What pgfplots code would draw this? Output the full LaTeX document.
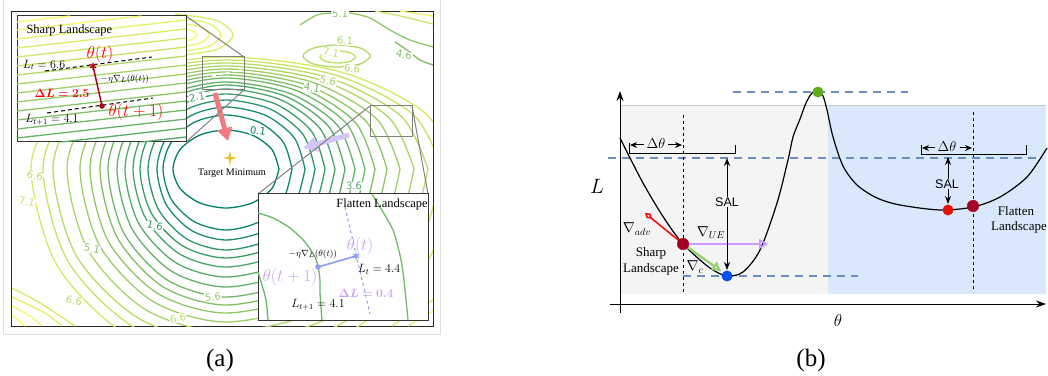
\documentclass[border=0pt]{standalone}
\usepackage{pgfplots}
\pgfplotsset{compat=1.18}
\usepackage{bm}
\usepackage{fontspec}
\setmainfont{Liberation Serif}
\newfontfamily\sansf{Liberation Sans}
\newfontfamily\dvs{DejaVu Sans}
\usetikzlibrary{arrows.meta}
\definecolor{st}{rgb}{0,0.5,0.4}
\definecolor{sy}{rgb}{1,1,0.4}
\definecolor{darkr}{HTML}{B0001A}
\definecolor{lviolet}{HTML}{C9A3F5}
\definecolor{lblue}{HTML}{8E9CF2}
\definecolor{dashblue}{HTML}{6C8EBF}
\definecolor{bgblue}{HTML}{DAE8FC}
\definecolor{bggray}{HTML}{F4F4F4}
\definecolor{dmaroon}{HTML}{A20025}
\definecolor{dotblue}{HTML}{0050EF}
\definecolor{dotgreen}{HTML}{60A917}
\definecolor{dotred}{HTML}{E51400}
\definecolor{gradgreen}{HTML}{97D077}
\definecolor{gradpurple}{HTML}{CC99FF}
\definecolor{gold}{HTML}{E8C21A}
\definecolor{arrred}{HTML}{F27A80}
\definecolor{arrpurple}{HTML}{D6C4F7}
\newcommand{\fs}[1]{\fontsize{#1}{#1}\selectfont}
\pgfdeclareplotmark{sparkle}{%
 \pgfpathmoveto{\pgfqpoint{0pt}{\pgfplotmarksize}}%
 \pgfpathlineto{\pgfqpoint{0.18\pgfplotmarksize}{0.18\pgfplotmarksize}}%
 \pgfpathlineto{\pgfqpoint{\pgfplotmarksize}{0pt}}%
 \pgfpathlineto{\pgfqpoint{0.18\pgfplotmarksize}{-0.18\pgfplotmarksize}}%
 \pgfpathlineto{\pgfqpoint{0pt}{-\pgfplotmarksize}}%
 \pgfpathlineto{\pgfqpoint{-0.18\pgfplotmarksize}{-0.18\pgfplotmarksize}}%
 \pgfpathlineto{\pgfqpoint{-\pgfplotmarksize}{0pt}}%
 \pgfpathlineto{\pgfqpoint{-0.18\pgfplotmarksize}{0.18\pgfplotmarksize}}%
 \pgfpathclose\pgfusepathqfill}
\pgfplotsset{cont/.style={smooth, no markers, line width=1.3pt},
  pix/.style={at={(0pt,0pt)}, anchor=south west, scale only axis,
  width=1048pt, height=375pt, xmin=0, xmax=1048, ymin=0, ymax=375,
  y dir=reverse, hide axis, clip=false}}
\tikzset{clab/.style={font=\dvs\fs{10}, fill=white, inner sep=0.6pt},
  px/.style={x=1pt, y=-1pt, yshift=375pt}}
\begin{document}
\begin{tikzpicture}
\path[use as bounding box] (0,0) rectangle (1048pt,375pt);
% ---------------- panel (a): contour map ----------------
\begin{axis}[at={(12pt,49pt)}, anchor=south west, scale only axis,
  width=421pt, height=315pt, xmin=12, xmax=433, ymin=11, ymax=326,
  y dir=reverse, xtick=\empty, ytick=\empty,
  axis line style={black!85, line width=1pt}, clip=true]
\addplot[cont, color=sy!0!st] coordinates {(279,169) (271.9,188.5) (252.5,202.8) (226,208) (199.5,202.8) (180.1,188.5) (173,169) (180.1,149.5) (199.5,135.2) (226,130) (252.5,135.2) (271.9,149.5) (279,169)};
\addplot[cont, color=sy!6!st] coordinates {(292,169) (283.2,199.5) (259,221.8) (226,230) (194.5,221.8) (171.4,199.5) (163,169) (171.4,142) (194.5,122.2) (226,115) (259,122.2) (283.2,142) (292,169)};
\addplot[cont, color=sy!11!st] coordinates {(305,169) (294.4,204.5) (265.5,230.5) (226,240) (191.5,230.5) (166.2,204.5) (157,169) (166.2,138) (191.5,115.3) (226,107) (265.5,115.3) (294.4,138) (305,169)};
\addplot[cont, color=sy!17!st] coordinates {(315,169) (303.1,209.5) (270.5,239.1) (226,250) (187,239.1) (158.5,209.5) (148,169) (158.5,134.5) (187,109.2) (226,100) (270.5,109.2) (303.1,134.5) (315,169)};
\addplot[cont, color=sy!22!st] coordinates {(325,169) (311.7,213.5) (275.5,246.1) (226,258) (183,246.1) (151.5,213.5) (140,169) (151.5,131.5) (183,104) (226,94) (275.5,104) (311.7,131.5) (325,169)};
\addplot[cont, color=sy!28!st] coordinates {(335,169) (320.4,218) (280.5,253.9) (226,267) (179.5,253.9) (145.5,218) (133,169) (145.5,129) (179.5,99.7) (226,89) (280.5,99.7) (320.4,129) (335,169)};
\addplot[cont, color=sy!33!st] coordinates {(345,169) (329.1,223) (285.5,262.5) (226,277) (175.5,262.5) (138.5,223) (125,169) (138.5,127) (175.5,96.3) (226,85) (285.5,96.3) (329.1,127) (345,169)};
\addplot[cont, color=sy!39!st] coordinates {(355,169) (337.7,228) (290.5,271.2) (226,287) (171.5,271.2) (131.6,228) (117,169) (131.6,125.5) (171.5,93.7) (226,82) (290.5,93.7) (337.7,125.5) (355,169)};
\addplot[cont, color=sy!44!st] coordinates {(365,169) (346.4,233) (295.5,279.8) (226,297) (167,279.8) (123.8,233) (108,169) (123.8,123.5) (167,90.2) (226,78) (295.5,90.2) (346.4,123.5) (365,169)};
\addplot[cont, color=sy!50!st] coordinates {(375,169) (355,237) (300.5,286.8) (226,305) (163,286.8) (116.9,237) (100,169) (116.9,122) (163,87.6) (226,75) (300.5,87.6) (355,122) (375,169)};
\addplot[cont, color=sy!56!st] coordinates {(387,169) (365.4,241) (306.5,293.7) (226,313) (158,293.7) (108.2,241) (90,169) (108.2,120.5) (158,85) (226,72) (306.5,85) (365.4,120.5) (387,169)};
\addplot[cont, color=sy!61!st] coordinates {(400,169) (376.7,245.5) (313,301.5) (226,322) (153,301.5) (99.6,245.5) (80,169) (99.6,119) (153,82.4) (226,69) (313,82.4) (376.7,119) (400,169)};
\addplot[cont, color=sy!67!st] coordinates {(414,169) (388.8,250.5) (320,310.2) (226,332) (146.5,310.2) (88.3,250.5) (67,169) (88.3,117.5) (146.5,79.8) (226,66) (320,79.8) (388.8,117.5) (414,169)};
\addplot[cont, color=sy!72!st] coordinates {(428,169) (400.9,255.5) (327,318.8) (226,342) (139.5,318.8) (76.2,255.5) (53,169) (76.2,116) (139.5,77.2) (226,63) (327,77.2) (400.9,116) (428,169)};
\addplot[cont, color=sy!78!st] coordinates {(442,169) (413.1,260.5) (334,327.5) (226,352) (134.5,327.5) (67.5,260.5) (43,169) (67.5,114.5) (134.5,74.6) (226,60) (334,74.6) (413.1,114.5) (442,169)};
\addplot[cont, color=sy!83!st] coordinates {(456,169) (425.2,265.5) (341,336.1) (226,362) (128.5,336.1) (57.1,265.5) (31,169) (57.1,113) (128.5,72) (226,57) (341,72) (425.2,113) (456,169)};
\addplot[cont, color=sy!75!st] coordinates {(356,57) (350.7,61.2) (338,63) (325.3,61.2) (320,57) (325.3,52.8) (338,51) (350.7,52.8) (356,57)};
\addplot[cont, color=sy!70!st] coordinates {(371,56) (361,63.8) (337,67) (313,63.8) (303,56) (313,48.2) (337,45) (361,48.2) (371,56)};
\addplot[cont, color=sy!56!st] coordinates {(300,25) (317,15) (333,13) (350,13) (370,18) (390,30) (410,40) (433,47)};
\addplot[cont, color=sy!50!st] coordinates {(395,42) (407,50) (420,60) (433,65)};
\addplot[cont, color=sy!97!st] coordinates {(175,28) (190.6,30) (197,35) (190.6,40) (175,42)};
\addplot[cont, color=sy!93!st] coordinates {(175,23) (199,26.5) (209,35) (199,43.5) (175,47)};
\addplot[cont, color=sy!89!st] coordinates {(175,18) (207.5,23) (221,35) (207.5,47) (175,52)};
\addplot[cont, color=sy!85!st] coordinates {(175,14) (216,20.2) (233,35) (216,49.8) (175,56)};
\addplot[cont, color=sy!80!st] coordinates {(375,11) (405,17) (433,24)};
\addplot[cont, color=sy!92!st] coordinates {(400,11) (433,16)};
\addplot[cont, color=sy!84!st] coordinates {(12,288) (40,303) (75,326)};
\addplot[cont, color=sy!89!st] coordinates {(12,297) (45,313) (62,326)};
\addplot[cont, color=sy!94!st] coordinates {(12,306) (30,316) (42,326)};
\addplot[cont, color=sy!98!st] coordinates {(12,315) (25,326)};
\addplot[cont, color=sy!84!st] coordinates {(392,326) (412,312) (433,300)};
\addplot[cont, color=sy!90!st] coordinates {(408,326) (433,311)};
\node[clab, text=sy!0!st, rotate=-8] at (258,131) {0.1};
\node[clab, text=sy!22!st, rotate=10] at (197,97) {2.1};
\node[clab, text=sy!17!st, rotate=-12] at (155,226) {1.6};
\node[clab, text=sy!56!st, rotate=-12] at (92,249) {5.1};
\node[clab, text=sy!44!st, rotate=-12] at (312,88) {4.1};
\node[clab, text=sy!61!st, rotate=-12] at (328,81) {5.6};
\node[clab, text=sy!72!st, rotate=-5] at (352,69) {6.6};
\node[clab, text=sy!78!st, rotate=-12] at (331,53) {7.1};
\node[clab, text=sy!67!st, rotate=-5] at (345,41) {6.1};
\node[clab, text=sy!56!st] at (340,14) {5.1};
\node[clab, text=sy!50!st, rotate=-12] at (404,55) {4.6};
\node[clab, text=sy!33!st] at (354,186) {3.6};
\node[clab, text=sy!61!st, rotate=5] at (213,297) {5.6};
\node[clab, text=sy!72!st, rotate=12] at (178,318) {6.6};
\node[clab, text=sy!72!st, rotate=-12] at (74,301) {6.6};
\node[clab, text=sy!72!st, rotate=-12] at (35,176) {6.6};
\node[clab, text=sy!78!st, rotate=-12] at (27,202) {7.1};
\draw[arrred, line width=5pt, -{Triangle[length=13pt, width=15pt]}] (215,93) -- (228,141);
\draw[arrpurple, line width=5pt, -{Triangle[length=14pt, width=15pt]}] (349,135) -- (303,148);
\addplot[only marks, mark=sparkle, mark size=7pt, color=gold] coordinates {(230,158)};
\node[font=\fs{10}] at (232,173) {Target Minimum};
\end{axis}
% ---------------- backgrounds (pixel coordinates) ----------------
\begin{scope}[px]
\draw[black!12, line width=1pt] (3,0) -- (3,334) -- (440,334) -- (440,0);
\draw[black!50, line width=1pt] (202,57) rectangle (244,90);
\draw[white, line width=1.6pt, dash pattern=on 4pt off 3pt] (212,76) -- (241,70);
\draw[black!50, line width=1pt] (186,16) -- (244,57);
\draw[black!50, line width=1pt] (186,142) -- (244,90);
\draw[black!50, line width=1pt] (370,106) rectangle (412,137);
\draw[black!50, line width=1pt] (370,106) -- (258,194);
\draw[black!50, line width=1pt] (412,106) -- (428,194);
\filldraw[fill=white, draw=black!80, line width=1pt] (17,16) rectangle (186,142);
\filldraw[fill=white, draw=black!80, line width=1pt] (258,194) rectangle (428,320);
\fill[bggray] (620,106) rectangle (828,294);
\fill[bgblue] (828,106) rectangle (1046,294);
\draw[black!22, line width=1pt] (620,106) -- (1046,106);
\draw[dashblue, line width=2pt, dash pattern=on 8pt off 6pt] (733,92) -- (908,92);
\draw[dashblue, line width=2pt, dash pattern=on 8pt off 6pt] (608,158) -- (1042,158);
\draw[dashblue, line width=2pt, dash pattern=on 8pt off 6pt] (683,276) -- (858,276);
\draw[black, line width=1pt, dash pattern=on 3pt off 3pt] (683,115) -- (683,294);
\draw[black, line width=1pt, dash pattern=on 3pt off 3pt] (973,112) -- (973,292);
\end{scope}
% ---------------- data in insets and panel (b) ----------------
\begin{axis}[pix]
\addplot[cont, color=sy!97!st] coordinates {(17,22) (70,16)};
\addplot[cont, color=sy!95!st] coordinates {(17,30) (141.5,16)};
\addplot[cont, color=sy!90!st] coordinates {(17,39) (186,20)};
\addplot[cont, color=sy!86!st] coordinates {(17,48) (186,29)};
\addplot[cont, color=sy!81!st] coordinates {(17,57) (186,38)};
\addplot[cont, color=sy!77!st] coordinates {(17,66) (186,47)};
\addplot[cont, color=sy!72!st] coordinates {(17,75) (186,56)};
\addplot[cont, color=sy!68!st] coordinates {(17,84) (186,65)};
\addplot[cont, color=sy!63!st] coordinates {(17,93) (186,74)};
\addplot[cont, color=sy!59!st] coordinates {(17,102) (186,83)};
\addplot[cont, color=sy!54!st] coordinates {(17,111) (186,92)};
\addplot[cont, color=sy!50!st] coordinates {(17,120) (186,101)};
\addplot[cont, color=sy!45!st] coordinates {(17,129) (186,110)};
\addplot[cont, color=sy!41!st] coordinates {(17,138) (186,119)};
\addplot[cont, color=sy!36!st] coordinates {(61.5,142) (186,128)};
\addplot[cont, color=sy!32!st] coordinates {(141.5,142) (186,137)};
\addplot[cont, color=sy!42!st] coordinates {(258,213) (273,218) (290,228) (305,242) (315,257) (318,267) (320,280) (320,293) (322,320)};
\addplot[cont, color=sy!42!st] coordinates {(258,272) (262,285) (266,300) (268,320)};
\addplot[cont, color=sy!46!st] coordinates {(372,194) (383,212) (393,230) (398,247) (402,265) (405,290) (408,320)};
\addplot[smooth, no markers, black, line width=1.2pt] coordinates {(620,138) (630,158) (643,183) (657,207) (670,227) (683,244) (700,260) (713,270) (727,276) (743,272) (760,250) (777,203) (788,160) (793,137) (800,119) (806,103) (812,93) (818,91) (823,96) (827,110) (833,137) (843,166) (857,185) (877,198) (900,205) (940,210) (973,207) (1000,197) (1027,177) (1047,148)};
\end{axis}
% ---------------- annotations ----------------
\begin{scope}[px]
\draw[black, line width=1pt, dash pattern=on 4pt off 3pt] (45,71) -- (152,57);
\draw[black, line width=1pt, dash pattern=on 4pt off 3pt] (47,113) -- (153,98);
\draw[darkr, line width=1.5pt] (93,66) -- (102,106);
\draw[lblue, line width=1pt, dash pattern=on 3pt off 3pt] (345,207) -- (370,314);
\draw[lblue, line width=1.6pt] (356,256) -- (318,267);
\node[anchor=west, font=\fs{12.5}] at (23,30) {Sharp Landscape};
\node[red, font=\fs{17}] at (100,54) {$\theta(t)$};
\node[font=\fs{12}] at (44,65) {$L_t = 6.6$};
\node[font=\fs{9.5}] at (125,79) {$-\eta\nabla_L(\theta(t))$};
\node[red, font=\fs{12}] at (62,93) {$\bm{\Delta L = 2.5}$};
\node[red, font=\fs{17}] at (136,112) {$\theta(t+1)$};
\node[font=\fs{12}] at (52,120) {$L_{t+1} = 4.1$};
\node[font=\fs{12.5}] at (382,204) {Flatten Landscape};
\node[lviolet, font=\fs{17}] at (360,246) {$\theta(t)$};
\node[font=\fs{9.5}] at (313,254) {$-\eta\nabla_L(\theta(t))$};
\node[lviolet, font=\fs{17}] at (290,277) {$\theta(t+1)$};
\node[font=\fs{12}] at (379,269) {$L_t = 4.4$};
\node[lviolet, font=\fs{12}] at (366,293) {$\bm{\Delta L = 0.4}$};
\node[font=\fs{12}] at (318,305) {$L_{t+1} = 4.1$};
\node[font=\fs{25}] at (220,360) {(a)};
\draw[red, line width=1.5pt, -{Diamond[open, length=9pt, width=6pt]}] (683,244) -- (645,213);
\draw[gradpurple, line width=1.8pt, -{Triangle[open, length=9pt, width=10pt]}] (683,244) -- (768,244);
\draw[gradgreen, line width=2.4pt, -{Triangle[open, length=9pt, width=10pt]}] (683,244) -- (721,271);
\draw[black, line width=1pt] (629,154) -- (735,154);
\draw[black, line width=1pt] (629,143) -- (629,154);
\draw[black, line width=1pt] (735,145) -- (735,154);
\draw[black, line width=1pt, -{Stealth[length=7pt, width=6pt]}] (644,145) -- (630,145);
\draw[black, line width=1pt, -{Stealth[length=7pt, width=6pt]}] (668,145) -- (682,145);
\node[font=\fs{14}] at (656,144) {$\Delta\theta$};
\draw[black, line width=1pt] (921,155) -- (1026,155);
\draw[black, line width=1pt] (921,145) -- (921,155);
\draw[black, line width=1pt] (1026,145) -- (1026,155);
\draw[black, line width=1pt, -{Stealth[length=7pt, width=6pt]}] (935,148) -- (922,148);
\draw[black, line width=1pt, -{Stealth[length=7pt, width=6pt]}] (960,148) -- (972,148);
\node[font=\fs{14}] at (947,147) {$\Delta\theta$};
\draw[black, line width=1pt, -{Stealth[length=8pt, width=6pt]}] (727,214) -- (727,158);
\draw[black, line width=1pt, -{Stealth[length=8pt, width=6pt]}] (727,214) -- (727,270);
\node[fill=bggray, inner sep=1pt, font=\sansf\fs{12.5}] at (727,202) {SAL};
\draw[black, line width=1pt, -{Stealth[length=8pt, width=6pt]}] (948,184) -- (948,157);
\draw[black, line width=1pt, -{Stealth[length=8pt, width=6pt]}] (948,184) -- (948,204);
\node[fill=bgblue, inner sep=1pt, font=\sansf\fs{12.5}] at (947,184) {SAL};
\draw[black, line width=1pt, -{Stealth[length=10pt, width=7pt]}] (620,313) -- (620,91);
\draw[black, line width=1pt, -{Stealth[length=10pt, width=7pt]}] (610,304) -- (1046,304);
\node[font=\fs{20}] at (597,186) {$L$};
\node[font=\fs{19}] at (838,320) {$\theta$};
\node[font=\fs{14}] at (637,229) {$\nabla_{adv}$};
\node[font=\fs{14}] at (711,233) {$\nabla_{UE}$};
\node[font=\fs{14}] at (695,267) {$\nabla_{c}$};
\node[font=\fs{13}] at (651,253) {Sharp};
\node[font=\fs{13}] at (651,269) {Landscape};
\node[font=\fs{13}] at (1016,211) {Flatten};
\node[font=\fs{13}] at (1019,227) {Landscape};
\node[font=\fs{25}] at (811,360) {(b)};
\end{scope}
% ---------------- markers on top ----------------
\begin{axis}[pix]
\addplot[only marks, mark=asterisk, mark size=3.5pt, line width=1.3pt, color=darkr] coordinates {(93,66)};
\addplot[only marks, mark=*, mark size=2.5pt, color=darkr] coordinates {(102,106)};
\addplot[only marks, mark=asterisk, mark size=3.5pt, line width=1.3pt, color=lblue] coordinates {(356,256)};
\addplot[only marks, mark=*, mark size=2.5pt, color=lblue] coordinates {(318,267)};
\addplot[only marks, mark=*, mark size=5.8pt, color=dmaroon] coordinates {(683,244) (973,206)};
\addplot[only marks, mark=*, mark size=5.2pt, color=dotblue] coordinates {(727,276)};
\addplot[only marks, mark=*, mark size=5.2pt, color=dotgreen] coordinates {(818,92)};
\addplot[only marks, mark=*, mark size=5.2pt, color=dotred] coordinates {(948,210)};
\end{axis}
\end{tikzpicture}
\end{document}
